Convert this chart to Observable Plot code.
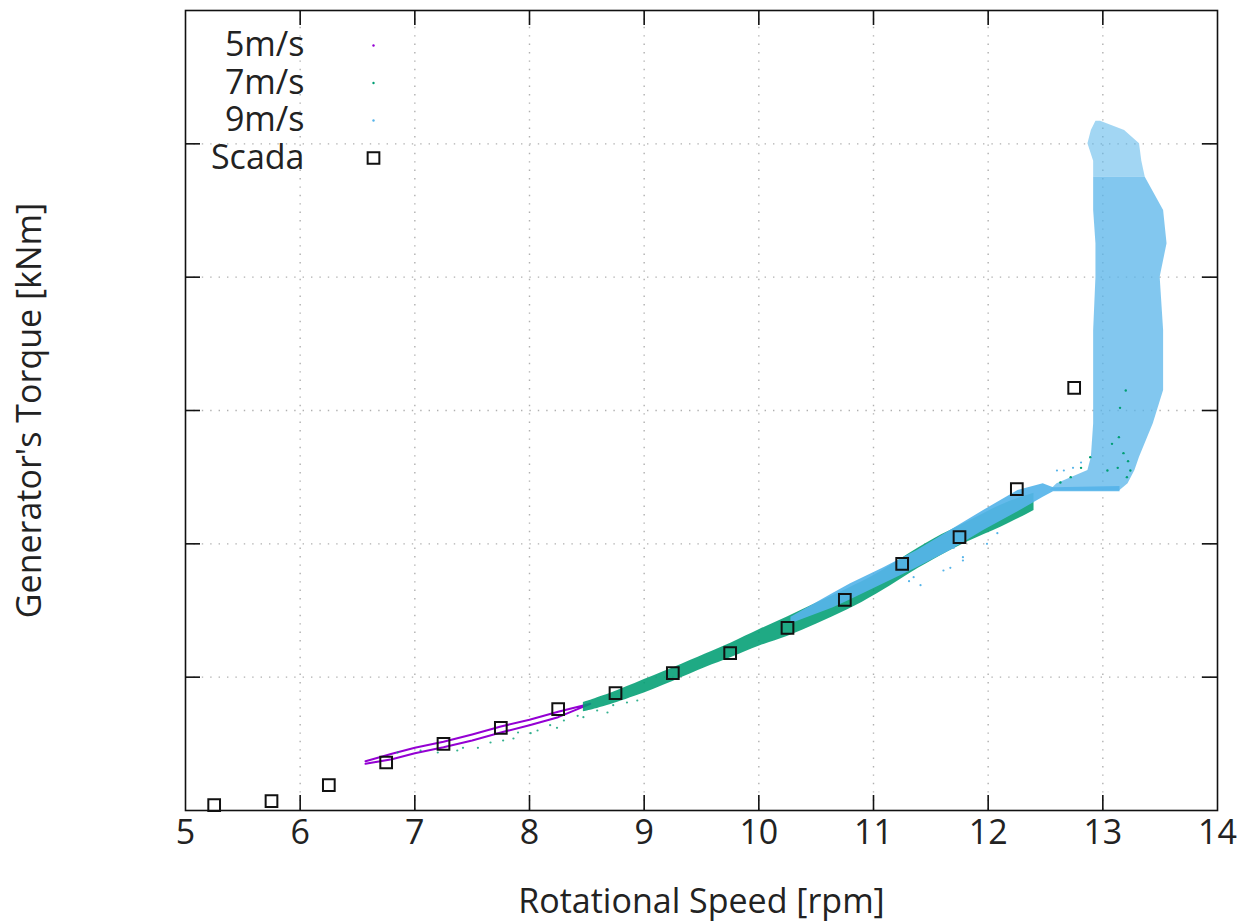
<!DOCTYPE html>
<html>
<head>
<meta charset="utf-8">
<script src="https://cdn.jsdelivr.net/npm/d3@7"></script>
<script src="https://cdn.jsdelivr.net/npm/@observablehq/plot@0.6"></script>
<style>
  html, body { margin: 0; padding: 0; background: #fff; }
  #chart { width: 1248px; height: 923px; }
</style>
</head>
<body>
<div id="chart"></div>
<script>
// ---------- data ----------
const xLabel = "Rotational Speed [rpm]";
const yLabel = "Generator's Torque [kNm]";
const rpmTicks = [5, 6, 7, 8, 9, 10, 11, 12, 13, 14];
const rpmGrid = [6, 7, 8, 9, 10, 11, 12, 13];
const torqueGrid = [100, 200, 300, 400, 500];
const seriesNames = ["5m/s", "7m/s", "9m/s", "Scada"];
const seriesColors = ["#9400d3", "#009e73", "#56b4e9", "#000000"];

// SCADA reference points
const scadaRpm = [5.25, 5.75, 6.25, 6.75, 7.25, 7.75, 8.25, 8.75, 9.25, 9.75, 10.25, 10.75, 11.25, 11.75, 12.25, 12.75];
const scadaTorque = [4, 7, 19, 36, 50, 62, 76, 88, 103, 118, 137, 158, 185, 205, 241, 317];

// 5 m/s trajectory (thin loop)
const w5Rpm = [6.57, 6.8, 7.0, 7.25, 7.5, 7.75, 8.0, 8.25, 8.53, 8.25, 8.0, 7.75, 7.5, 7.25, 7.0, 6.8, 6.57];
const w5Torque = [37, 42.5, 47, 51.5, 57, 63, 68, 74, 80, 70, 64, 58.5, 52.5, 47.5, 43, 38.5, 35];

// 7 m/s dense band (lower / upper envelope)
const w7BandRpm = [8.47, 8.62, 8.91, 9.26, 9.55, 9.75, 10.01, 10.25, 10.51, 10.77, 11.03, 11.26, 11.52, 11.82, 12.11, 12.4];
const w7BandLo = [74, 77, 85, 97, 108, 114, 124, 130, 140, 150, 162, 175, 188, 202, 212, 225];
const w7BandHi = [81, 85, 95, 107, 118, 125, 136, 145, 156, 166, 177, 190, 204, 216, 230, 238];
// 7 m/s scattered samples
const w7DotRpm = [6.85, 7.05, 7.2, 7.37, 7.42, 7.55, 7.66, 7.77, 7.86, 7.9, 8.01, 8.07, 8.18, 8.24, 8.3, 8.42, 8.47, 8.59, 8.68, 8.73, 8.85, 8.94,
                  13.2, 13.15, 13.14, 13.08, 13.18, 13.22, 13.24, 13.13, 13.04, 12.89, 12.81, 12.72, 12.63, 13.21];
const w7DotTorque = [43.5, 45, 43.5, 45, 47, 47, 51, 52.5, 54, 58.5, 58, 60, 64, 62, 67.5, 71, 70, 75, 73.5, 79, 81, 82.5,
                     315, 302, 280, 275, 268, 262, 255, 257, 255, 265, 257, 250, 246, 250];

// 9 m/s rising band (lower / upper envelope), incl. flat part
const w9BandRpm = [10.28, 10.65, 10.8, 11.09, 11.38, 11.67, 11.96, 12.26, 12.48, 12.57, 13.15];
const w9BandLo = [140, 152, 158, 170, 182, 195, 210, 224, 235, 239, 239];
const w9BandHi = [145, 163, 170, 182, 195, 210, 225, 240, 245, 242, 243];
// 9 m/s high-torque cloud, dense body (left / right envelope by torque)
const w9CloudTorque = [240, 245, 255, 265, 290, 315, 360, 400, 425, 450, 475];
const w9CloudLeft = [12.54, 12.6, 12.87, 12.9, 12.92, 12.92, 12.92, 12.94, 12.94, 12.92, 12.92];
const w9CloudRight = [13.15, 13.22, 13.28, 13.32, 13.44, 13.53, 13.53, 13.5, 13.56, 13.53, 13.37];
// 9 m/s cloud, sparse top
const w9TopTorque = [475, 487, 500, 510, 517];
const w9TopLeft = [12.92, 12.92, 12.87, 12.9, 12.94];
const w9TopRight = [13.37, 13.34, 13.32, 13.19, 12.98];
// 9 m/s scattered samples
const w9DotRpm = [11.35, 11.41, 11.61, 11.67, 11.78, 11.99, 12.08, 12.6, 12.66, 12.74, 12.81, 11.31, 11.7, 11.78];
const w9DotTorque = [175, 169, 180, 182, 190, 200, 208, 255, 255, 257, 261, 172, 197, 187.5];

// ---------- tables ----------
const scada = scadaRpm.map((x, i) => ({x, y: scadaTorque[i]}));
const w5 = w5Rpm.map((x, i) => ({x, y: w5Torque[i]}));
const w7Band = w7BandRpm.map((x, i) => ({x, lo: w7BandLo[i], hi: w7BandHi[i]}));
const w7Dots = w7DotRpm.map((x, i) => ({x, y: w7DotTorque[i]}));
const w9Band = w9BandRpm.map((x, i) => ({x, lo: w9BandLo[i], hi: w9BandHi[i]}));
const w9Cloud = w9CloudTorque.map((y, i) => ({y, l: w9CloudLeft[i], r: w9CloudRight[i]}));
const w9Top = w9TopTorque.map((y, i) => ({y, l: w9TopLeft[i], r: w9TopRight[i]}));
const w9Dots = w9DotRpm.map((x, i) => ({x, y: w9DotTorque[i]}));

const FONT = "Open Sans";
const FS = 34;
const LEGEND_FS = 34;
const PLOT_H = 800; // inner plot height (for tick insets)
const PLOT_W = 1032;

const legendMarks = seriesNames.flatMap((name, i) => {
  const dy = 35 + i * 37.5;
  const sample = i < 3
    ? Plot.dot([name], {frameAnchor: "top-left", dx: 188, dy, r: 1.2, fill: seriesColors[i]})
    : Plot.dot([name], {frameAnchor: "top-left", dx: 188, dy, r: 6.6, symbol: "square", stroke: "#111", strokeWidth: 2, fill: "none"});
  return [
    Plot.text([name], {frameAnchor: "top-left", dx: 119, dy, text: d => d, textAnchor: "end", lineAnchor: "middle", fontSize: LEGEND_FS, fill: "#222"}),
    sample
  ];
});

const chart = Plot.plot({
  width: 1248,
  height: 923,
  marginLeft: 185,
  marginRight: 31,
  marginTop: 10,
  marginBottom: 113,
  style: {fontFamily: FONT, background: "#fff", color: "#222"},
  x: {domain: [5, 14], axis: null},
  y: {domain: [0, 600], axis: null},
  marks: [
    // grid
    Plot.ruleX(rpmGrid, {x: d => d, stroke: "#b0b0b0", strokeWidth: 1.4, strokeDasharray: "1.4,7"}),
    Plot.ruleY(torqueGrid, {y: d => d, stroke: "#b0b0b0", strokeWidth: 1.4, strokeDasharray: "1.4,7"}),
    // 5 m/s
    Plot.line(w5, {x: "x", y: "y", stroke: seriesColors[0], strokeWidth: 2, curve: "linear"}),
    // 7 m/s
    Plot.areaY(w7Band, {x: "x", y1: "lo", y2: "hi", fill: seriesColors[1], fillOpacity: 0.88, curve: "basis"}),
    Plot.dot(w7Dots.slice(0, 22), {x: "x", y: "y", r: 1.1, fill: seriesColors[1], fillOpacity: 0.8}),
    // 9 m/s
    Plot.areaY(w9Band, {x: "x", y1: "lo", y2: "hi", fill: seriesColors[2], fillOpacity: 0.92, curve: "linear"}),
    Plot.areaX(w9Cloud, {y: "y", x1: "l", x2: "r", fill: seriesColors[2], fillOpacity: 0.74, curve: "linear"}),
    Plot.areaX(w9Top, {y: "y", x1: "l", x2: "r", fill: seriesColors[2], fillOpacity: 0.55, curve: "linear"}),
    Plot.dot(w9Dots, {x: "x", y: "y", r: 1.1, fill: seriesColors[2]}),
    Plot.dot(w7Dots.slice(22), {x: "x", y: "y", r: 1.2, fill: seriesColors[1]}),
    // SCADA
    Plot.dot(scada, {x: "x", y: "y", r: 6.6, symbol: "square", stroke: "#111", strokeWidth: 2, fill: "none"}),
    // frame + inward ticks
    Plot.frame({stroke: "#111", strokeWidth: 1.6}),
    Plot.ruleX(rpmGrid, {x: d => d, insetTop: PLOT_H - 15, stroke: "#111", strokeWidth: 1.6}),
    Plot.ruleX(rpmGrid, {x: d => d, insetBottom: PLOT_H - 15, stroke: "#111", strokeWidth: 1.6}),
    Plot.ruleY(torqueGrid, {y: d => d, insetRight: PLOT_W - 15, stroke: "#111", strokeWidth: 1.6}),
    Plot.ruleY(torqueGrid, {y: d => d, insetLeft: PLOT_W - 15, stroke: "#111", strokeWidth: 1.6}),
    // tick labels & axis labels
    Plot.text(rpmTicks, {x: d => d, frameAnchor: "bottom", dy: 23, lineAnchor: "middle", text: d => String(d), fontSize: FS, fill: "#222"}),
    Plot.text([xLabel], {frameAnchor: "bottom", dy: 92, lineAnchor: "middle", text: d => d, fontSize: FS, fill: "#222"}),
    Plot.text([yLabel], {frameAnchor: "left", dx: -155, rotate: -90, textAnchor: "middle", lineAnchor: "middle", text: d => d, fontSize: FS, fill: "#222"}),
    ...legendMarks
  ]
});
document.getElementById("chart").appendChild(chart);
</script>
</body>
</html>
